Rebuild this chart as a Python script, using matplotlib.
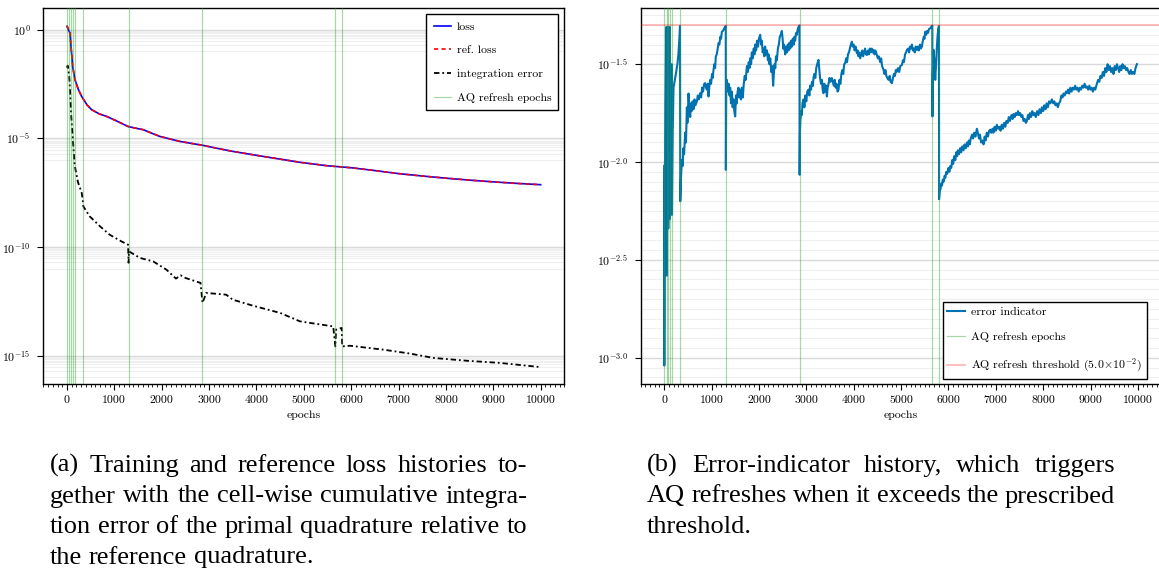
import numpy as np
import matplotlib
matplotlib.use("Agg")
import matplotlib.pyplot as plt
from matplotlib.ticker import FixedLocator, FuncFormatter, MultipleLocator, NullFormatter

# ---------------------------------------------------------------- data
# AQ refresh epochs (shared by both panels)
refresh_epochs = [0, 52, 85, 118, 163, 335, 1302, 2858, 5662, 5802]

# training loss / reference loss (log10 values)
loss_epochs = [0, 30, 63, 90, 120, 169, 240, 310, 420, 521, 680, 838, 1050, 1288,
               1450, 1611, 1800, 1963, 2200, 2385, 2600, 2871, 3200, 3504, 4200,
               4919, 5500, 6000, 6500, 7000, 7500, 8000, 8500, 9000, 9500, 10000]
loss_log10 = [0.15, 0.0, -0.15, -0.9, -1.69, -2.30, -2.75, -3.07, -3.45, -3.68,
              -3.87, -3.99, -4.20, -4.45, -4.53, -4.60, -4.77, -4.91, -5.04, -5.14,
              -5.22, -5.32, -5.47, -5.60, -5.85, -6.10, -6.26, -6.35, -6.48, -6.62,
              -6.73, -6.83, -6.92, -7.00, -7.07, -7.13]
ref_loss_log10 = [0.20, 0.02, -0.14, -0.9, -1.69, -2.30, -2.75, -3.07, -3.45, -3.68,
                  -3.87, -3.99, -4.20, -4.45, -4.53, -4.60, -4.77, -4.91, -5.04, -5.14,
                  -5.22, -5.32, -5.47, -5.60, -5.85, -6.10, -6.26, -6.35, -6.48, -6.62,
                  -6.73, -6.83, -6.92, -7.00, -7.07, -7.13]

# cell-wise cumulative integration error (log10 values)
interr_epochs = [0, 15, 30, 45, 55, 63, 75, 90, 110, 125, 160, 230, 310, 331, 345,
                 480, 700, 900, 1150, 1290, 1300, 1310, 1540, 1820, 2100, 2300, 2400,
                 2500, 2820, 2860, 2940, 3360, 3500, 3930, 4500, 4920, 5620, 5665,
                 5680, 5800, 5810, 5974, 6677, 7241, 7733, 8438, 9142, 9986]
interr_log10 = [-1.75, -1.65, -1.85, -2.10, -2.40, -2.76, -3.30, -3.99, -4.60, -5.06,
                -6.20, -7.00, -7.50, -7.80, -8.13, -8.59, -9.05, -9.43, -9.74, -9.89,
                -10.72, -10.20, -10.50, -10.66, -11.04, -11.45, -11.30, -11.42, -11.65,
                -12.57, -12.11, -12.19, -12.42, -12.70, -13.03, -13.42, -13.65, -14.57,
                -13.80, -13.72, -14.57, -14.54, -14.72, -14.90, -15.10, -15.23, -15.33,
                -15.52]

# error indicator history, (epoch, log10 value) per refresh interval
indicator_seg0 = [(0, -2.02), (3, -3.04), (10, -2.30), (25, -1.70), (45, -1.31),
                  (52, -2.58), (65, -1.80), (80, -1.31), (86, -2.34), (100, -1.70),
                  (117, -1.31), (122, -2.29), (140, -1.90), (160, -1.50), (165, -2.27),
                  (180, -1.85), (197, -1.62), (225, -1.58), (253, -1.54), (281, -1.495),
                  (300, -1.45), (323, -1.36), (334, -1.305)]
indicator_seg1 = [(340, -2.20), (355, -2.08), (373, -1.99), (390, -2.02), (405, -1.93),
                  (420, -1.96), (443, -1.85), (460, -1.90), (479, -1.72), (490, -1.80),
                  (500, -1.75), (514, -1.65), (530, -1.72), (549, -1.77), (565, -1.70),
                  (580, -1.74), (600, -1.69), (619, -1.73), (640, -1.68), (660, -1.71),
                  (690, -1.69), (710, -1.66), (730, -1.68), (760, -1.648), (780, -1.67),
                  (800, -1.62), (820, -1.64), (845, -1.60), (866, -1.597), (885, -1.62),
                  (900, -1.63), (920, -1.60), (936, -1.665), (955, -1.61), (970, -1.58),
                  (990, -1.60), (1010, -1.55), (1025, -1.57), (1041, -1.529),
                  (1060, -1.50), (1075, -1.52), (1090, -1.46), (1110, -1.45),
                  (1130, -1.42), (1147, -1.393), (1165, -1.40), (1185, -1.36),
                  (1200, -1.37), (1218, -1.334), (1240, -1.33), (1260, -1.32),
                  (1288, -1.31), (1300, -1.305)]
indicator_seg2 = [(1302, -2.04), (1310, -1.60), (1323, -1.58), (1340, -1.64), (1360, -1.60),
                  (1380, -1.66), (1393, -1.62), (1410, -1.70), (1430, -1.64), (1445, -1.72),
                  (1464, -1.68), (1480, -1.74), (1499, -1.767), (1515, -1.66), (1530, -1.70),
                  (1550, -1.64), (1569, -1.62), (1585, -1.67), (1600, -1.63), (1620, -1.68),
                  (1640, -1.62), (1660, -1.67), (1680, -1.60), (1700, -1.56), (1720, -1.58),
                  (1746, -1.51), (1765, -1.54), (1785, -1.49), (1800, -1.52), (1816, -1.47),
                  (1835, -1.50), (1850, -1.44), (1870, -1.47), (1890, -1.42), (1905, -1.45),
                  (1921, -1.40), (1940, -1.43), (1960, -1.38), (1980, -1.41), (2000, -1.37),
                  (2027, -1.35), (2045, -1.40), (2060, -1.38), (2080, -1.44), (2097, -1.42),
                  (2115, -1.46), (2130, -1.41), (2150, -1.45), (2170, -1.43), (2190, -1.48),
                  (2203, -1.45), (2220, -1.50), (2240, -1.47), (2260, -1.54), (2280, -1.51),
                  (2300, -1.61), (2315, -1.55), (2330, -1.50), (2345, -1.52), (2360, -1.46),
                  (2379, -1.48), (2400, -1.42), (2420, -1.40), (2440, -1.36), (2460, -1.35),
                  (2484, -1.33), (2500, -1.37), (2515, -1.42), (2530, -1.40), (2554, -1.45),
                  (2570, -1.41), (2590, -1.44), (2610, -1.40), (2625, -1.43), (2645, -1.39),
                  (2660, -1.42), (2680, -1.38), (2696, -1.41), (2715, -1.37), (2735, -1.40),
                  (2750, -1.36), (2765, -1.38), (2785, -1.34), (2800, -1.35), (2820, -1.32),
                  (2835, -1.31), (2855, -1.302)]
indicator_seg3 = [(2859, -2.065), (2866, -1.85), (2875, -1.79), (2890, -1.74), (2905, -1.76),
                  (2920, -1.70), (2941, -1.68), (2960, -1.72), (2980, -1.66), (3000, -1.69),
                  (3020, -1.64), (3046, -1.63), (3065, -1.66), (3080, -1.61), (3100, -1.63),
                  (3120, -1.59), (3140, -1.61), (3152, -1.57), (3170, -1.55), (3190, -1.57),
                  (3210, -1.52), (3230, -1.50), (3257, -1.478), (3275, -1.53), (3290, -1.57),
                  (3310, -1.60), (3330, -1.58), (3345, -1.63), (3363, -1.648), (3380, -1.60),
                  (3400, -1.64), (3420, -1.61), (3434, -1.665), (3450, -1.62), (3470, -1.60),
                  (3490, -1.57), (3510, -1.59), (3539, -1.571), (3560, -1.59), (3580, -1.61),
                  (3600, -1.58), (3620, -1.62), (3640, -1.60), (3660, -1.64), (3680, -1.631),
                  (3700, -1.58), (3720, -1.60), (3740, -1.55), (3760, -1.53), (3780, -1.55),
                  (3800, -1.50), (3821, -1.495), (3840, -1.47), (3860, -1.49), (3880, -1.45),
                  (3900, -1.44), (3920, -1.42), (3940, -1.40), (3962, -1.385), (3980, -1.41),
                  (4000, -1.40), (4020, -1.43), (4040, -1.41), (4068, -1.444), (4085, -1.43),
                  (4100, -1.46), (4120, -1.44), (4138, -1.47), (4160, -1.45), (4180, -1.43),
                  (4200, -1.46), (4220, -1.44), (4240, -1.42), (4260, -1.45), (4279, -1.453),
                  (4300, -1.43), (4320, -1.45), (4340, -1.42), (4360, -1.44), (4380, -1.42),
                  (4400, -1.44), (4420, -1.427), (4440, -1.45), (4460, -1.43), (4490, -1.453),
                  (4510, -1.47), (4530, -1.46), (4560, -1.49), (4580, -1.47), (4600, -1.51),
                  (4631, -1.529), (4650, -1.55), (4670, -1.53), (4690, -1.56), (4710, -1.57),
                  (4736, -1.58), (4760, -1.56), (4780, -1.59), (4807, -1.597), (4830, -1.57),
                  (4850, -1.55), (4870, -1.56), (4890, -1.53), (4912, -1.538), (4935, -1.52),
                  (4960, -1.54), (4985, -1.51), (5018, -1.504), (5040, -1.48), (5060, -1.49),
                  (5085, -1.45), (5105, -1.44), (5124, -1.427), (5150, -1.42), (5170, -1.44),
                  (5190, -1.41), (5210, -1.42), (5229, -1.40), (5250, -1.43), (5270, -1.42),
                  (5290, -1.44), (5310, -1.41), (5335, -1.427), (5355, -1.41), (5375, -1.43),
                  (5400, -1.40), (5420, -1.42), (5440, -1.41), (5460, -1.38), (5480, -1.36),
                  (5495, -1.37), (5510, -1.334), (5530, -1.35), (5550, -1.33), (5570, -1.34),
                  (5590, -1.32), (5615, -1.317), (5635, -1.31), (5660, -1.303)]
indicator_seg4 = [(5663, -1.767), (5670, -1.55), (5686, -1.427), (5700, -1.47), (5722, -1.58),
                  (5740, -1.50), (5757, -1.41), (5770, -1.36), (5785, -1.32), (5800, -1.305)]
indicator_seg5 = [(5803, -2.19), (5815, -2.15), (5830, -2.14), (5850, -2.11), (5865, -2.12),
                  (5880, -2.09), (5900, -2.10), (5920, -2.07), (5935, -2.08), (5955, -2.05),
                  (5975, -2.06), (6000, -2.03), (6020, -2.05), (6040, -2.02), (6060, -2.03),
                  (6080, -1.99), (6100, -2.01), (6120, -1.97), (6146, -1.99), (6165, -1.95),
                  (6185, -1.97), (6200, -1.94), (6225, -1.96), (6249, -1.929), (6270, -1.95),
                  (6290, -1.92), (6320, -1.94), (6340, -1.91), (6365, -1.93), (6390, -1.90),
                  (6410, -1.92), (6430, -1.89), (6450, -1.91), (6470, -1.88), (6500, -1.86),
                  (6520, -1.88), (6545, -1.85), (6570, -1.87), (6601, -1.83), (6620, -1.85),
                  (6645, -1.88), (6665, -1.86), (6690, -1.90), (6720, -1.89), (6742, -1.91),
                  (6765, -1.87), (6785, -1.89), (6810, -1.85), (6835, -1.87), (6860, -1.84),
                  (6882, -1.835), (6905, -1.85), (6930, -1.83), (6950, -1.85), (6975, -1.82),
                  (7000, -1.84), (7023, -1.81), (7050, -1.83), (7075, -1.82), (7100, -1.84),
                  (7125, -1.81), (7150, -1.83), (7175, -1.80), (7200, -1.82), (7225, -1.79),
                  (7250, -1.80), (7275, -1.77), (7300, -1.79), (7330, -1.76), (7355, -1.78),
                  (7374, -1.755), (7400, -1.77), (7420, -1.75), (7445, -1.76), (7470, -1.74),
                  (7490, -1.76), (7515, -1.75), (7540, -1.77), (7560, -1.76), (7585, -1.79),
                  (7610, -1.78), (7635, -1.80), (7656, -1.79), (7680, -1.76), (7700, -1.78),
                  (7720, -1.75), (7745, -1.77), (7770, -1.74), (7796, -1.76), (7820, -1.75),
                  (7845, -1.77), (7870, -1.74), (7900, -1.76), (7925, -1.73), (7950, -1.75),
                  (7975, -1.72), (8000, -1.74), (8025, -1.71), (8050, -1.73), (8075, -1.70),
                  (8100, -1.72), (8125, -1.69), (8150, -1.70), (8184, -1.68), (8210, -1.70),
                  (8235, -1.69), (8260, -1.71), (8285, -1.70), (8310, -1.72), (8335, -1.70),
                  (8360, -1.69), (8385, -1.66), (8410, -1.67), (8430, -1.65), (8455, -1.66),
                  (8480, -1.64), (8501, -1.648), (8525, -1.63), (8550, -1.65), (8575, -1.62),
                  (8600, -1.64), (8625, -1.62), (8650, -1.63), (8675, -1.61), (8700, -1.63),
                  (8725, -1.62), (8750, -1.64), (8775, -1.62), (8800, -1.63), (8825, -1.61),
                  (8850, -1.62), (8875, -1.60), (8900, -1.62), (8923, -1.614), (8950, -1.63),
                  (8975, -1.61), (9000, -1.63), (9025, -1.62), (9050, -1.64), (9075, -1.62),
                  (9100, -1.63), (9134, -1.60), (9160, -1.58), (9185, -1.59), (9210, -1.56),
                  (9235, -1.57), (9260, -1.54), (9285, -1.56), (9310, -1.52), (9335, -1.54),
                  (9360, -1.50), (9385, -1.53), (9410, -1.51), (9435, -1.54), (9460, -1.52),
                  (9485, -1.55), (9510, -1.51), (9535, -1.53), (9557, -1.50), (9580, -1.52),
                  (9605, -1.54), (9626, -1.51), (9650, -1.53), (9675, -1.50), (9700, -1.52),
                  (9725, -1.51), (9750, -1.53), (9775, -1.52), (9800, -1.54), (9825, -1.55),
                  (9850, -1.53), (9875, -1.55), (9900, -1.54), (9925, -1.55), (9950, -1.52),
                  (9979, -1.50)]

refresh_threshold = 5.0e-2

# tick labels
x_ticks = list(range(0, 10001, 1000))
left_y_ticks = [0, -5, -10, -15]
right_y_ticks = [-1.5, -2.0, -2.5, -3.0]

caption_a = ["(a) Training and reference loss histories to-",
             "gether with the cell-wise cumulative integra-",
             "tion error of the primal quadrature relative to",
             "the reference quadrature."]
caption_b = ["(b) Error-indicator history, which triggers",
             "AQ refreshes when it exceeds the prescribed",
             "threshold."]

# ---------------------------------------------------------------- style
plt.rcParams.update({
    "font.family": "serif",
    "font.serif": ["cmr10"],
    "mathtext.fontset": "cm",
    "axes.unicode_minus": False,
    "axes.formatter.use_mathtext": True,
    "font.size": 8.5,
})

W, H = 1159, 575
fig = plt.figure(figsize=(W / 100, H / 100), dpi=100)


def rect(x0, y0, x1, y1):
    return [x0 / W, 1 - y1 / H, (x1 - x0) / W, (y1 - y0) / H]


ax1 = fig.add_axes(rect(43.3, 8, 564.4, 384))
ax2 = fig.add_axes(rect(640.5, 8, 1161.6, 384))

GREEN = "#2ca02c"


def common(ax):
    ax.set_xlim(-500, 10500)
    ax.set_yscale("log")
    ax.xaxis.set_major_locator(FixedLocator(x_ticks))
    ax.xaxis.set_major_formatter(FuncFormatter(lambda v, p: "%d" % v))
    ax.xaxis.set_minor_locator(MultipleLocator(100))
    ax.tick_params(which="major", direction="out", length=4, width=0.8,
                   labelsize=8.5, pad=4)
    ax.tick_params(axis="x", which="minor", direction="out", length=2.5, width=0.6)
    ax.tick_params(axis="y", which="minor", length=0)
    ax.tick_params(axis="y", which="major", pad=5)
    for s in ax.spines.values():
        s.set_linewidth(1.0)
    ax.yaxis.grid(True, which="major", color="#d9d9d9", lw=1.0)
    ax.yaxis.grid(True, which="minor", color="#efefef", lw=0.8)
    ax.set_axisbelow(True)
    ax.set_xlabel("epochs", fontsize=8.5, labelpad=4)


def legend(ax, loc, anchor, **kw):
    leg = ax.legend(loc=loc, bbox_to_anchor=anchor, borderaxespad=0,
                    fancybox=False, framealpha=1, edgecolor="black",
                    fontsize=8.5, **kw)
    leg.get_frame().set_linewidth(1.0)
    return leg


# ---------------------------------------------------------------- left panel
common(ax1)
ax1.set_ylim(10 ** -16.3, 10 ** 1.0)
ax1.yaxis.set_major_locator(FixedLocator([10.0 ** k for k in left_y_ticks]))
ax1.yaxis.set_major_formatter(
    FuncFormatter(lambda v, p: r"$10^{%d}$" % int(round(np.log10(v)))))
ax1.yaxis.set_minor_locator(FixedLocator(
    [m * 10.0 ** (k - 1) for k in left_y_ticks for m in range(1, 10)]))
ax1.yaxis.set_minor_formatter(NullFormatter())

ax1.plot(loss_epochs, 10.0 ** np.array(loss_log10), color="blue", lw=1.2,
         label="loss", zorder=3)
ax1.plot(loss_epochs, 10.0 ** np.array(ref_loss_log10), color="red", lw=1.2,
         ls=(0, (2.5, 2.0)), label="ref. loss", zorder=4)
ax1.plot(interr_epochs, 10.0 ** np.array(interr_log10), color="black", lw=1.3,
         ls=(0, (3.0, 1.6, 1.0, 1.6)), label="integration error", zorder=3)
for i, e in enumerate(refresh_epochs):
    ax1.axvline(e, color=GREEN, alpha=0.42, lw=0.85, zorder=5,
                label="AQ refresh epochs" if i == 0 else None)

legend(ax1, "upper right", ((558.3 - 43.3) / 521.1, (384 - 14.3) / 376),
       labelspacing=1.15, handlelength=1.5, handletextpad=0.45, borderpad=0.6)

# ---------------------------------------------------------------- right panel
common(ax2)
ax2.set_ylim(10 ** -3.134, 10 ** -1.213)
ax2.yaxis.set_major_locator(FixedLocator([10.0 ** k for k in right_y_ticks]))
ax2.yaxis.set_major_formatter(
    FuncFormatter(lambda v, p: r"$10^{%.1f}$" % np.log10(v)))
ax2.yaxis.set_minor_locator(FixedLocator(
    [10.0 ** (-3.5 + 0.05 * j) for j in range(0, 50)]))
ax2.yaxis.set_minor_formatter(NullFormatter())

indicator = np.array(indicator_seg0 + indicator_seg1 + indicator_seg2 +
                     indicator_seg3 + indicator_seg4 + indicator_seg5)
ax2.plot(indicator[:, 0], 10.0 ** indicator[:, 1], color="#0072B2", lw=1.5,
         label="error indicator", zorder=3)
for i, e in enumerate(refresh_epochs):
    ax2.axvline(e, color=GREEN, alpha=0.42, lw=0.85, zorder=4,
                label="AQ refresh epochs" if i == 0 else None)
ax2.axhline(refresh_threshold, color="red", alpha=0.3, lw=1.2, zorder=4,
            label=r"AQ refresh threshold $(5.0\!\times\!10^{-2})$")

legend(ax2, "lower right", ((1146.7 - 640.5) / 521.1, (384 - 379) / 376),
       labelspacing=1.25, handlelength=1.5, handletextpad=0.5, borderpad=0.4)

# ---------------------------------------------------------------- captions
CAP_FONT = dict(family="Liberation Serif", size=19)
renderer = fig.canvas.get_renderer()


def justified(lines, x0, x1, baselines):
    probe = fig.text(0, 0, "a a", **CAP_FONT)
    probe2 = fig.text(0, 0, "aa", **CAP_FONT)
    space = (probe.get_window_extent(renderer).width
             - probe2.get_window_extent(renderer).width)
    probe.remove()
    probe2.remove()
    for n, (line, yb) in enumerate(zip(lines, baselines)):
        words = line.split(" ")
        texts = [fig.text(0, 1 - yb / H, w, ha="left", va="baseline", **CAP_FONT)
                 for w in words]
        widths = [t.get_window_extent(renderer).width for t in texts]
        last = n == len(lines) - 1
        gap = space if last or len(words) < 2 else \
            (x1 - x0 - sum(widths)) / (len(words) - 1)
        x = x0
        for t, w in zip(texts, widths):
            t.set_x(x / W)
            x += w + gap


justified(caption_a, 50, 527, [472, 502.5, 533, 563.5])
justified(caption_b, 647, 1115, [472, 502.5, 533])

fig.savefig("out.png", dpi=100)
